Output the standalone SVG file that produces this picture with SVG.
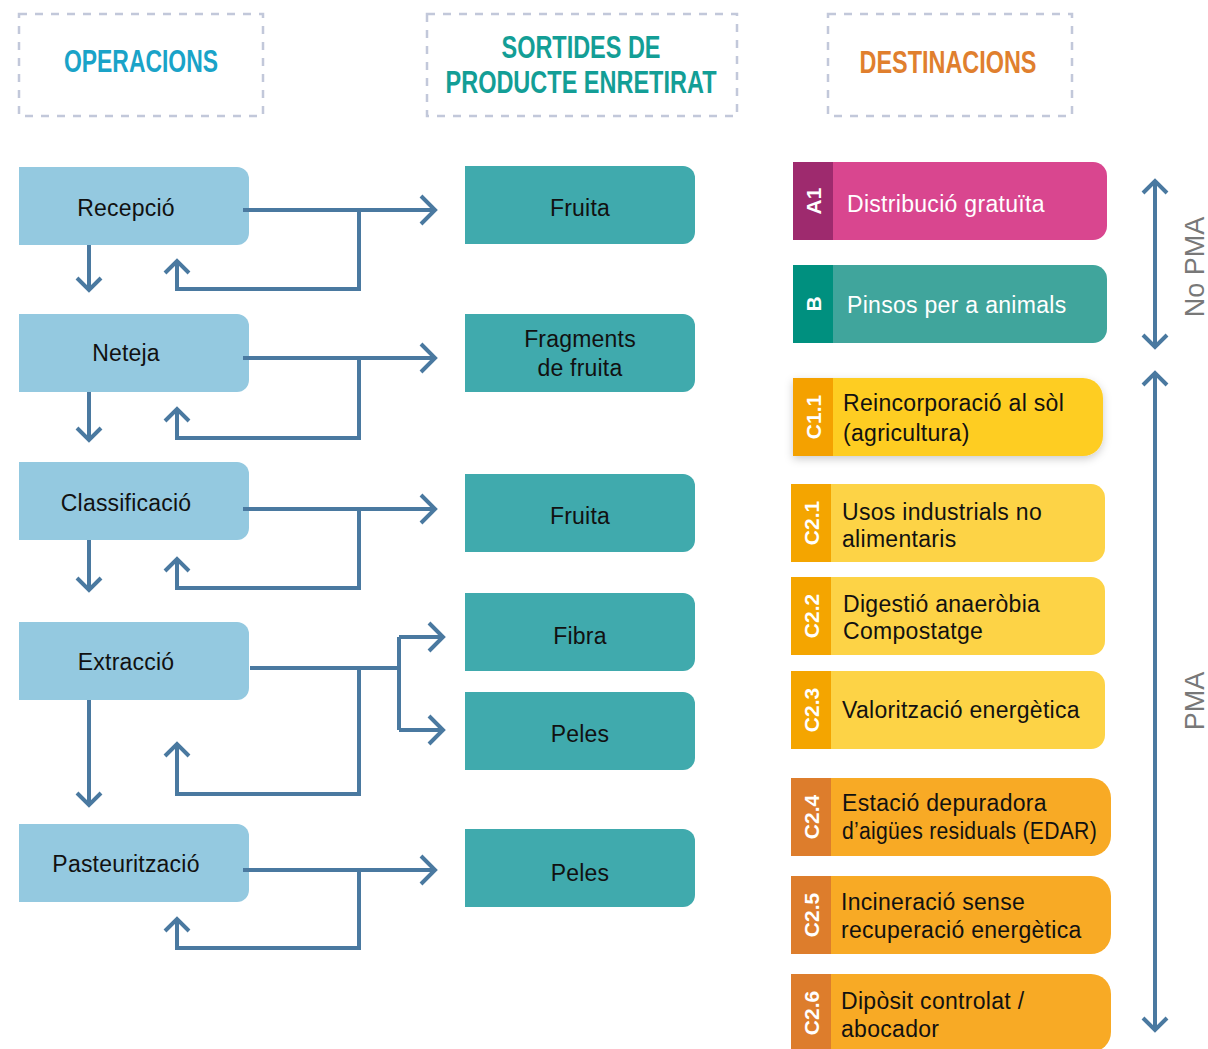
<svg xmlns="http://www.w3.org/2000/svg" width="1208" height="1049" viewBox="0 0 1208 1049">
<defs>
<style>
.hdrbox{fill:none;stroke:#c2c8da;stroke-width:2.5;stroke-dasharray:8 8}
.hdr{font-family:"Liberation Sans",Arial,sans-serif;font-weight:bold;font-size:31px;text-anchor:middle}
.op{fill:#94c9e0}
.out{fill:#40aaad}
.t{font-family:"Liberation Sans",Arial,sans-serif;font-size:23px;letter-spacing:0.2px;fill:#111;text-anchor:middle}
.d{font-family:"Liberation Sans",Arial,sans-serif;font-size:23px;letter-spacing:0.3px;fill:#111}
.dw{fill:#fff}
.lab{font-family:"Liberation Sans",Arial,sans-serif;font-size:21px;font-weight:bold;fill:#fff;text-anchor:middle}
.c{fill:none;stroke:#4a79a0;stroke-width:4;stroke-linejoin:miter}
.side{font-family:"Liberation Sans",Arial,sans-serif;font-size:27px;fill:#787878;text-anchor:middle}
</style>
<filter id="sh" x="-10%" y="-20%" width="120%" height="150%"><feDropShadow dx="0" dy="3" stdDeviation="4" flood-color="#000" flood-opacity="0.2"/></filter>
</defs>

<g id="header-operacions">
<rect class="hdrbox" x="19" y="14" width="244" height="102"/>
<text class="hdr" x="141" y="72" fill="#1aa3c8" textLength="154" lengthAdjust="spacingAndGlyphs">OPERACIONS</text>
</g>
<g id="header-sortides">
<rect class="hdrbox" x="427" y="14" width="310" height="102"/>
<text class="hdr" x="581" y="58" fill="#139e96" textLength="159" lengthAdjust="spacingAndGlyphs">SORTIDES DE</text>
<text class="hdr" x="581" y="93" fill="#139e96" textLength="271" lengthAdjust="spacingAndGlyphs">PRODUCTE ENRETIRAT</text>
</g>
<g id="header-destinacions">
<rect class="hdrbox" x="828" y="14" width="244" height="102"/>
<text class="hdr" x="948" y="73" fill="#e07f2e" textLength="177" lengthAdjust="spacingAndGlyphs">DESTINACIONS</text>
</g>

<g id="op-recepcio"><path class="op" d="M19 167H237a12 12 0 0 1 12 12V233a12 12 0 0 1-12 12H19Z"/><text class="t" x="126" y="216">Recepció</text></g>
<g id="op-neteja"><path class="op" d="M19 314H237a12 12 0 0 1 12 12V380a12 12 0 0 1-12 12H19Z"/><text class="t" x="126" y="361">Neteja</text></g>
<g id="op-classificacio"><path class="op" d="M19 462H237a12 12 0 0 1 12 12V528a12 12 0 0 1-12 12H19Z"/><text class="t" x="126" y="511">Classificació</text></g>
<g id="op-extraccio"><path class="op" d="M19 622H237a12 12 0 0 1 12 12V688a12 12 0 0 1-12 12H19Z"/><text class="t" x="126" y="670">Extracció</text></g>
<g id="op-pasteuritzacio"><path class="op" d="M19 824H237a12 12 0 0 1 12 12V890a12 12 0 0 1-12 12H19Z"/><text class="t" x="126" y="872">Pasteurització</text></g>

<g id="out-fruita1"><path class="out" d="M465 166H683a12 12 0 0 1 12 12V232a12 12 0 0 1-12 12H465Z"/><text class="t" x="580" y="216">Fruita</text></g>
<g id="out-fragments"><path class="out" d="M465 314H683a12 12 0 0 1 12 12V380a12 12 0 0 1-12 12H465Z"/><text class="t" x="580" y="347">Fragments</text><text class="t" x="580" y="376">de fruita</text></g>
<g id="out-fruita2"><path class="out" d="M465 474H683a12 12 0 0 1 12 12V540a12 12 0 0 1-12 12H465Z"/><text class="t" x="580" y="524">Fruita</text></g>
<g id="out-fibra"><path class="out" d="M465 593H683a12 12 0 0 1 12 12V659a12 12 0 0 1-12 12H465Z"/><text class="t" x="580" y="644">Fibra</text></g>
<g id="out-peles1"><path class="out" d="M465 692H683a12 12 0 0 1 12 12V758a12 12 0 0 1-12 12H465Z"/><text class="t" x="580" y="742">Peles</text></g>
<g id="out-peles2"><path class="out" d="M465 829H683a12 12 0 0 1 12 12V895a12 12 0 0 1-12 12H465Z"/><text class="t" x="580" y="881">Peles</text></g>

<g id="connectors">
<path class="c" d="M243 210H435M421 196L435 210L421 224"/>
<path class="c" d="M359 210V289H177V262M165 273L177 261L189 273"/>
<path class="c" d="M89 245V290M77 278L89 290L101 278"/>
<path class="c" d="M243 358H435M421 344L435 358L421 372"/>
<path class="c" d="M359 358V438H177V410M165 421L177 409L189 421"/>
<path class="c" d="M89 392V440M77 428L89 440L101 428"/>
<path class="c" d="M243 509H435M421 495L435 509L421 523"/>
<path class="c" d="M359 509V588H177V560M165 571L177 559L189 571"/>
<path class="c" d="M89 540V590M77 578L89 590L101 578"/>
<path class="c" d="M250 668H399M399 637V730M399 637H443M429 623L443 637L429 651M399 730H443M429 716L443 730L429 744"/>
<path class="c" d="M359 668V794H177V745M165 756L177 744L189 756"/>
<path class="c" d="M89 700V805M77 793L89 805L101 793"/>
<path class="c" d="M243 870H435M421 856L435 870L421 884"/>
<path class="c" d="M359 870V948H177V920M165 931L177 919L189 931"/>
<path class="c" d="M1155 181V347M1143 193L1155 181L1167 193M1143 335L1155 347L1167 335"/>
<path class="c" d="M1155 373V1030M1143 385L1155 373L1167 385M1143 1018L1155 1030L1167 1018"/>
</g>

<g id="label-nopma"><text class="side" transform="translate(1204 267) rotate(-90)">No PMA</text></g>
<g id="label-pma"><text class="side" transform="translate(1204 701) rotate(-90)">PMA</text></g>

<g id="dest-a1">
<path d="M793 162H1093a14 14 0 0 1 14 14V226a14 14 0 0 1-14 14H793Z" fill="#d9468f"/>
<rect x="793" y="162" width="40" height="78" fill="#9e2a6e"/>
<text class="lab" transform="translate(821 201) rotate(-90)">A1</text>
<text class="d dw" x="847" y="212">Distribució gratuïta</text>
</g>
<g id="dest-b">
<path d="M793 265H1093a14 14 0 0 1 14 14V329a14 14 0 0 1-14 14H793Z" fill="#40a59c"/>
<rect x="793" y="265" width="40" height="78" fill="#00907f"/>
<text class="lab" transform="translate(821 304) rotate(-90)">B</text>
<text class="d dw" x="847" y="313">Pinsos per a animals</text>
</g>
<g id="dest-c11">
<path d="M793 378H1083a20 20 0 0 1 20 20V436a20 20 0 0 1-20 20H793Z" fill="#fecd24" filter="url(#sh)"/>
<rect x="793" y="378" width="40" height="78" fill="#f4a100"/>
<text class="lab" transform="translate(821 417) rotate(-90)">C1.1</text>
<text class="d" x="843" y="411">Reincorporació al sòl</text>
<text class="d" x="843" y="441">(agricultura)</text>
</g>
<g id="dest-c21">
<path d="M791 484H1091a14 14 0 0 1 14 14V548a14 14 0 0 1-14 14H791Z" fill="#fdd346"/>
<rect x="791" y="484" width="40" height="78" fill="#f4a500"/>
<text class="lab" transform="translate(819 523) rotate(-90)">C2.1</text>
<text class="d" x="842" y="520">Usos industrials no</text>
<text class="d" x="842" y="547">alimentaris</text>
</g>
<g id="dest-c22">
<path d="M791 577H1091a14 14 0 0 1 14 14V641a14 14 0 0 1-14 14H791Z" fill="#fdd346"/>
<rect x="791" y="577" width="40" height="78" fill="#f4a500"/>
<text class="lab" transform="translate(819 616) rotate(-90)">C2.2</text>
<text class="d" x="843" y="612">Digestió anaeròbia</text>
<text class="d" x="843" y="639">Compostatge</text>
</g>
<g id="dest-c23">
<path d="M791 671H1091a14 14 0 0 1 14 14V735a14 14 0 0 1-14 14H791Z" fill="#fdd346"/>
<rect x="791" y="671" width="40" height="78" fill="#f4a500"/>
<text class="lab" transform="translate(819 710) rotate(-90)">C2.3</text>
<text class="d" x="842" y="718">Valorització energètica</text>
</g>
<g id="dest-c24">
<path d="M791 778H1091a20 20 0 0 1 20 20V836a20 20 0 0 1-20 20H791Z" fill="#f8aa25"/>
<rect x="791" y="778" width="40" height="78" fill="#dd7d2c"/>
<text class="lab" transform="translate(819 817) rotate(-90)">C2.4</text>
<text class="d" x="842" y="811">Estació depuradora</text>
<text class="d" x="842" y="839" textLength="255" lengthAdjust="spacingAndGlyphs">d’aigües residuals (EDAR)</text>
</g>
<g id="dest-c25">
<path d="M791 876H1091a20 20 0 0 1 20 20V934a20 20 0 0 1-20 20H791Z" fill="#f8aa25"/>
<rect x="791" y="876" width="40" height="78" fill="#dd7d2c"/>
<text class="lab" transform="translate(819 915) rotate(-90)">C2.5</text>
<text class="d" x="841" y="910">Incineració sense</text>
<text class="d" x="841" y="938">recuperació energètica</text>
</g>
<g id="dest-c26">
<path d="M791 974H1091a20 20 0 0 1 20 20V1032a20 20 0 0 1-20 20H791Z" fill="#f8aa25"/>
<rect x="791" y="974" width="40" height="78" fill="#dd7d2c"/>
<text class="lab" transform="translate(819 1013) rotate(-90)">C2.6</text>
<text class="d" x="841" y="1009">Dipòsit controlat /</text>
<text class="d" x="841" y="1037">abocador</text>
</g>
</svg>
